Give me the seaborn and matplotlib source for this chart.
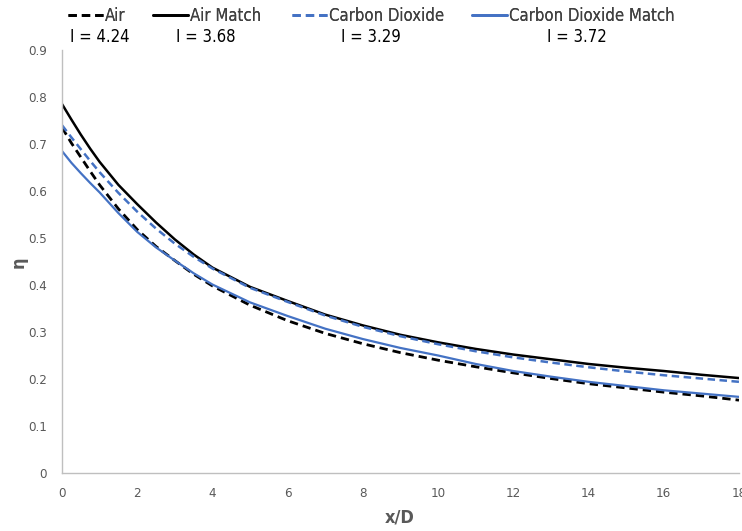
import matplotlib
matplotlib.use("Agg")
import matplotlib.pyplot as plt
import seaborn as sns
import pandas as pd
from matplotlib.lines import Line2D

x_vals = [0, 0.25, 0.5, 0.75, 1, 1.5, 2, 2.5, 3, 3.5, 4, 5, 6, 7, 8, 9, 10, 11, 12, 13, 14, 15, 16, 17, 18]
air = [0.735, 0.702, 0.672, 0.642, 0.613, 0.562, 0.518, 0.482, 0.452, 0.423, 0.398, 0.357, 0.324, 0.297, 0.275, 0.256, 0.24, 0.226, 0.213, 0.201, 0.19, 0.181, 0.172, 0.164, 0.155]
air_match = [0.785, 0.752, 0.72, 0.69, 0.662, 0.613, 0.572, 0.533, 0.497, 0.465, 0.437, 0.396, 0.366, 0.337, 0.314, 0.294, 0.278, 0.264, 0.252, 0.242, 0.232, 0.224, 0.217, 0.209, 0.202]
co2 = [0.74, 0.714, 0.689, 0.664, 0.64, 0.596, 0.556, 0.52, 0.488, 0.46, 0.435, 0.394, 0.364, 0.335, 0.311, 0.291, 0.274, 0.259, 0.246, 0.235, 0.225, 0.216, 0.208, 0.201, 0.194]
co2_match = [0.685, 0.66, 0.638, 0.617, 0.597, 0.553, 0.513, 0.48, 0.452, 0.425, 0.401, 0.363, 0.334, 0.307, 0.285, 0.266, 0.25, 0.232, 0.217, 0.205, 0.194, 0.185, 0.176, 0.169, 0.162]

series_names = ["Air", "Air Match", "Carbon Dioxide", "Carbon Dioxide Match"]
intensity_labels = ["I = 4.24", "I = 3.68", "I = 3.29", "I = 3.72"]
x_ticks = [0, 2, 4, 6, 8, 10, 12, 14, 16, 18]
y_ticks = [0, 0.1, 0.2, 0.3, 0.4, 0.5, 0.6, 0.7, 0.8, 0.9]

BLUE = "#4472C4"
colors = {"Air": "black", "Air Match": "black", "Carbon Dioxide": BLUE, "Carbon Dioxide Match": BLUE}
dashes = {"Air": (3, 1.8), "Air Match": None, "Carbon Dioxide": (3, 1.8), "Carbon Dioxide Match": None}
widths = {"Air": 2.0, "Air Match": 1.8, "Carbon Dioxide": 1.8, "Carbon Dioxide Match": 1.6}

rows = []
for name, vals in zip(series_names, [air, air_match, co2, co2_match]):
    for xv, yv in zip(x_vals, vals):
        rows.append({"x": xv, "eta": yv, "series": name})
df = pd.DataFrame(rows)

sns.set_style("white")
plt.rcParams["font.family"] = ["DejaVu Sans"]
plt.rcParams["font.stretch"] = "condensed"

fig = plt.figure(figsize=(7.42, 5.31), dpi=100)
ax = fig.add_axes([62 / 742, 1 - 473 / 531, (739 - 62) / 742, (473 - 50) / 531])

for name in series_names:
    sub = df[df["series"] == name]
    sns.lineplot(data=sub, x="x", y="eta", ax=ax, color=colors[name],
                 linewidth=widths[name], legend=False)
    line = ax.get_lines()[-1]
    if dashes[name]:
        line.set_dashes(dashes[name])

ax.set_xlim(0, 18)
ax.set_ylim(0, 0.9)
ax.set_xticks(x_ticks)
ax.set_xticklabels([str(t) for t in x_ticks])
ax.set_yticks(y_ticks)
ax.set_yticklabels(["0" if t == 0 else f"{t:.1f}" for t in y_ticks])
for s in ["top", "right"]:
    ax.spines[s].set_visible(False)
for s in ["left", "bottom"]:
    ax.spines[s].set_color("#bfbfbf")
    ax.spines[s].set_linewidth(1.0)
ax.tick_params(axis="both", which="major", direction="out", length=5, width=1,
               color="#bfbfbf", labelcolor="#595959", labelsize=9.5)
ax.tick_params(axis="x", pad=5)
ax.tick_params(axis="y", pad=6)
ax.set_xlabel("x/D", fontsize=13, fontweight="bold", color="#595959")
ax.set_ylabel("η", fontsize=13, fontweight="bold", color="#595959")
ax.xaxis.set_label_coords((400 - 62) / 677, -(517 - 473) / 423)
ax.yaxis.set_label_coords(-(62 - 19) / 677, (473 - 262) / 423)
ax.xaxis.label.set_va("center")
ax.yaxis.label.set_va("center")

handle_x = [68, 153, 292, 472]
for hx, n in zip(handle_x, series_names):
    h = Line2D([0], [0], color=colors[n], linewidth=2)
    if dashes[n]:
        h.set_dashes(dashes[n])
    leg = fig.legend([h], [n], loc="center left", bbox_to_anchor=(hx / 742, 1 - 16 / 531),
                     frameon=False, fontsize=12, handlelength=2.1, handletextpad=0.1,
                     borderaxespad=0, borderpad=0)
    for t in leg.get_texts():
        t.set_color("#404040")
    fig.add_artist(leg)

label_x = [70, 176, 341, 547]
for lx, lab in zip(label_x, intensity_labels):
    fig.text(lx / 742, 1 - 37 / 531, lab, fontsize=12, color="black", va="center", ha="left")

fig.savefig("out.png", dpi=100)
